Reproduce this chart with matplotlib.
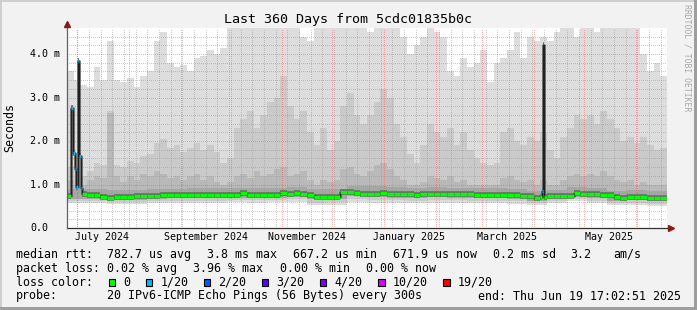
import numpy as np
import pandas as pd
import matplotlib
matplotlib.use("Agg")
import matplotlib.pyplot as plt
import matplotlib.dates as mdates
from matplotlib.patches import Rectangle
from datetime import datetime

MONO = "DejaVu Sans Mono"
W, H = 697, 310

# time frame of the graph
start = datetime(2024, 6, 24, 17, 2, 51)
span_days = 360

# smoke (ms), one value every 4 days
smoke_days = list(range(0, 360, 4))
ping_max = [3.6, 3.4, 3.3, 3.25, 3.7, 3.4, 4.3, 3.4, 3.35, 3.45,
            3.25, 3.5, 3.6, 4.3, 4.5, 3.8, 3.7, 3.75, 3.6, 3.9,
            3.95, 4.1, 4.0, 4.15, 4.6, 4.8, 4.8, 4.8, 4.8, 4.8,
            4.8, 4.8, 4.8, 4.8, 4.8, 4.4, 4.3, 4.8, 4.8, 4.8,
            4.8, 4.8, 4.8, 4.8, 4.8, 4.5, 4.8, 4.8, 4.8, 4.8,
            4.4, 4.0, 4.2, 4.4, 4.8, 4.5, 4.4, 3.6, 3.5, 3.9,
            3.7, 3.8, 4.1, 3.35, 3.8, 3.9, 4.1, 4.5, 3.9, 4.4,
            4.3, 4.4, 4.3, 4.5, 4.8, 4.8, 4.4, 4.8, 4.8, 4.5,
            4.8, 4.8, 4.8, 4.8, 4.8, 4.8, 4.0, 3.6, 3.8, 3.5]
ping_p2 = [1.4, 1.3, 1.2, 1.3, 1.5, 1.45, 2.7, 1.45, 1.4, 1.55,
           1.5, 1.65, 1.7, 1.95, 2.05, 1.85, 1.9, 1.75, 1.85, 1.95,
           1.8, 1.9, 1.75, 1.5, 1.6, 2.3, 2.5, 2.7, 2.3, 2.6,
           2.9, 3.0, 3.5, 2.8, 2.5, 2.7, 2.2, 1.9, 2.3, 1.8,
           2.0, 2.8, 3.1, 2.6, 2.4, 2.6, 2.9, 3.2, 3.0, 2.4,
           2.1, 1.7, 1.5, 1.9, 2.4, 2.2, 2.1, 2.3, 1.9, 2.2,
           1.8, 1.6, 1.5, 1.45, 1.5, 2.2, 2.3, 2.0, 1.9, 2.1,
           2.0, 2.2, 1.8, 1.6, 2.1, 2.3, 2.6, 2.5, 2.6, 2.4,
           2.7, 2.5, 2.3, 2.0, 2.1, 1.95, 2.1, 1.9, 1.8, 1.85]
ping_p3 = [1.1, 1.0, 1.0, 1.1, 1.2, 1.15, 2.65, 1.2, 1.05, 1.2,
           1.1, 1.25, 1.2, 1.3, 1.25, 1.15, 1.2, 1.1, 1.2, 1.25,
           1.1, 1.2, 1.05, 1.0, 1.05, 1.2, 1.25, 1.15, 1.3, 1.2,
           1.25, 1.35, 1.4, 1.2, 1.25, 1.3, 1.1, 1.0, 1.1, 1.05,
           1.1, 1.35, 1.4, 1.25, 1.2, 1.3, 1.45, 1.5, 1.35, 1.2,
           1.1, 1.0, 1.0, 1.05, 1.2, 1.15, 1.1, 1.2, 1.05, 1.1,
           1.0, 0.98, 1.0, 1.0, 1.0, 1.15, 1.2, 1.1, 1.05, 1.1,
           1.0, 1.1, 1.0, 0.98, 1.1, 1.2, 1.25, 1.2, 1.25, 1.2,
           1.3, 1.2, 1.1, 1.05, 1.1, 1.0, 1.05, 1.0, 0.98, 1.0]

# inner smoke bands around the median, one value every 12 days
band_days = list(range(0, 360, 12))
ping_p4 = [0.90, 0.90, 0.88, 0.88, 0.89, 0.90, 0.91, 0.91, 0.93, 0.92,
           0.93, 0.94, 0.89, 0.90, 0.96, 0.97, 0.94, 0.93, 0.94, 0.93,
           0.92, 0.91, 0.90, 0.86, 0.88, 0.94, 0.92, 0.86, 0.87, 0.84]
ping_lo2 = [0.67, 0.67, 0.64, 0.65, 0.67, 0.68, 0.69, 0.69, 0.70, 0.70,
            0.70, 0.71, 0.66, 0.66, 0.73, 0.71, 0.70, 0.70, 0.71, 0.70,
            0.69, 0.69, 0.67, 0.63, 0.66, 0.71, 0.69, 0.63, 0.64, 0.61]
ping_lo1 = [0.62, 0.62, 0.59, 0.60, 0.61, 0.62, 0.63, 0.63, 0.64, 0.64,
            0.65, 0.66, 0.58, 0.59, 0.66, 0.65, 0.64, 0.63, 0.64, 0.64,
            0.63, 0.63, 0.61, 0.57, 0.61, 0.66, 0.63, 0.57, 0.58, 0.55]
ping_min = [0.57, 0.57, 0.55, 0.56, 0.57, 0.58, 0.58, 0.58, 0.59, 0.58,
            0.59, 0.60, 0.52, 0.53, 0.60, 0.58, 0.58, 0.57, 0.58, 0.58,
            0.57, 0.57, 0.56, 0.52, 0.57, 0.62, 0.57, 0.52, 0.52, 0.50]

# median rtt (ms) and its loss class (index into loss_colors, -1 = none)
median_days = ([0, 2.6, 3.8, 4.6, 5.4, 6.4, 7.3, 8.2, 8.8]
               + list(range(12, 284, 4))
               + [284, 285.0, 285.6, 286.2]
               + list(range(288, 360, 4)))
median_ms = ([0.74, 2.75, 1.72, 1.36, 0.95, 3.84, 1.66, 0.92, 0.78]
             + [0.77, 0.75, 0.72, 0.70, 0.72, 0.72, 0.72, 0.73, 0.73, 0.74,
                0.74, 0.75, 0.75, 0.75, 0.76, 0.76, 0.76, 0.76, 0.76, 0.77,
                0.76, 0.77, 0.77, 0.81, 0.77, 0.76, 0.77, 0.77, 0.77, 0.80,
                0.79, 0.80, 0.78, 0.75, 0.72, 0.72, 0.72, 0.72, 0.82, 0.83,
                0.80, 0.79, 0.79, 0.79, 0.80, 0.79, 0.78, 0.78, 0.79, 0.77,
                0.78, 0.79, 0.78, 0.79, 0.78, 0.78, 0.79, 0.78, 0.77, 0.77,
                0.76, 0.77, 0.77, 0.76, 0.76, 0.74, 0.73, 0.70]
             + [0.71, 0.85, 4.2, 0.71]
             + [0.74, 0.74, 0.74, 0.74, 0.81, 0.79, 0.78, 0.78, 0.76, 0.75,
                0.71, 0.70, 0.72, 0.72, 0.71, 0.69, 0.69, 0.70])
median_loss = ([0, 1, 1, 1, 1, 1, 1, 1, 0]
               + [0] * 68
               + [0, 1, -1, 0]
               + [0] * 18)

loss_colors = ["#00ff00", "#00b8ff", "#0059ff", "#5e00ff", "#7e00ff", "#dd00ff", "#ff0000"]
loss_labels = ["0", "1/20", "2/20", "3/20", "4/20", "10/20", "19/20"]

y_ticks = [0, 1, 2, 3, 4]
y_tick_labels = ["0.0", "1.0 m", "2.0 m", "3.0 m", "4.0 m"]
x_label_dates = ["2024-07-16", "2024-09-16", "2024-11-16", "2025-01-16", "2025-03-16", "2025-05-16"]
x_labels = ["July 2024", "September 2024", "November 2024", "January 2025", "March 2025", "May 2025"]

rtt_stats = ["782.7 us avg", "3.8 ms max", "667.2 us min", "671.9 us now", "0.2 ms sd", "3.2", "am/s"]
loss_stats = ["0.02 % avg", "3.96 % max", "0.00 % min", "0.00 % now"]
probe_text = "20 IPv6-ICMP Echo Pings (56 Bytes) every 300s"
end_text = "end: Thu Jun 19 17:02:51 2025"

t0 = mdates.date2num(start)


def stepped(days, vals):
    x = t0 + np.append(np.asarray(days, float), span_days)
    y = np.append(vals, vals[-1])
    return x, y


def fx(px):
    return px / W


def fy(py):
    return 1 - py / H


fig = plt.figure(figsize=(W / 100, H / 100), dpi=100, facecolor="#F2F2F2")
ax = fig.add_axes([fx(67), 82 / H, 600 / W, 200 / H])
ax.set_facecolor("white")
ax.set_xlim(t0, t0 + span_days)
ax.set_ylim(0, 4.6)
for s in ax.spines.values():
    s.set_visible(False)
ax.set_xticks([])
ax.set_yticks([])

# smoke: upper bands painted from 0, then the lower bands lighten it again
layers = [(smoke_days, ping_max, "#DDDDDD"), (smoke_days, ping_p2, "#CACACA"),
          (smoke_days, ping_p3, "#B9B9B9"), (band_days, ping_p4, "#A6A6A6"),
          (band_days, ping_lo2, "#CACACA"), (band_days, ping_lo1, "#DDDDDD"),
          (band_days, ping_min, "#FFFFFF")]
for days, vals, col in layers:
    x, y = stepped(days, vals)
    ax.fill_between(x, 0, y, step="post", color=col, lw=0, zorder=1)

# grid (1px dots)
dot = (0, (1, 1.5))
gkw = dict(lw=0.6, ls=dot, zorder=2, antialiased=False)
mondays = mdates.date2num(pd.date_range("2024-07-01", "2025-06-19", freq="7D").to_pydatetime())
months = mdates.date2num(pd.date_range("2024-07-01", "2025-06-01", freq="MS").to_pydatetime())
for d in mondays:
    ax.axvline(d, color="#999999", alpha=0.5, **gkw)
for v in np.arange(0.2, 4.6, 0.2):
    if abs(v - round(v)) > 1e-6:
        ax.axhline(v, color="#999999", alpha=0.5, **gkw)
for d in months:
    ax.axvline(d, color="#ff3030", alpha=0.35, **gkw)
for v in y_ticks[1:]:
    ax.axhline(v, color="#ff3030", alpha=0.35, **gkw)

# median: dark halo and black line, then loss coloured boxes
mx, my = stepped(median_days, median_ms)
ax.hlines(median_ms, mx[:-1], mx[1:], color="#6a6a6a", lw=4.0, zorder=3)
ax.step(mx, my, where="post", color="#555555", lw=1.8, zorder=3.2)
ax.step(mx, my, where="post", color="#202020", lw=0.8, zorder=3.5)
for i, lc in enumerate(median_loss):
    if lc < 0:
        continue
    ax.hlines(median_ms[i], mx[i], mx[i + 1], color=loss_colors[lc], lw=2.4, zorder=4)

# axes with arrows
ax.plot([0, 1.008], [0, 0], color="#303030", lw=0.9, transform=ax.transAxes, clip_on=False, zorder=5)
ax.plot([0, 0], [0, 1.02], color="#606060", lw=0.9, transform=ax.transAxes, clip_on=False, zorder=5)
ax.plot([1.006], [0], marker=">", ms=4.2, color="#8b1a1a", transform=ax.transAxes, clip_on=False, zorder=6)
ax.plot([0], [1.022], marker="^", ms=4.2, color="#8b1a1a", transform=ax.transAxes, clip_on=False, zorder=6)

# tick labels
for v, lab in zip(y_ticks, y_tick_labels):
    ax.text(-37 / 600, v, lab, transform=ax.get_yaxis_transform(), ha="left", va="center",
            fontsize=7.2, family=MONO, color="#000000")
for d, lab in zip(x_label_dates, x_labels):
    ax.text(mdates.date2num(pd.Timestamp(d).to_pydatetime()), -9.5 / 200, lab,
            transform=ax.get_xaxis_transform(), ha="center", va="center",
            fontsize=7.2, family=MONO, color="#000000")

fig.text(0.5, fy(19), "Last 360 Days from 5cdc01835b0c", ha="center", va="center",
         fontsize=9.6, family=MONO)
fig.text(fx(10), fy(127), "Seconds", rotation=90, ha="center", va="center",
         fontsize=8.4, family=MONO)
fig.text(fx(687), fy(4), "RRDTOOL / TOBI OETIKER", rotation=270, ha="center", va="top",
         fontsize=5.9, family=MONO, color="#A8A8A8")

# legend block
fs = 8.4
rows = [254.3, 268.3, 282.3, 296.0]
fig.text(fx(16), fy(rows[0]), "median rtt:", fontsize=fs, family=MONO, va="center")
for xp, s in zip([107.3, 206.7, 292.7, 392.7, 492.7, 570.5, 613.3], rtt_stats):
    fig.text(fx(xp), fy(rows[0]), s, fontsize=fs, family=MONO, va="center")
fig.text(fx(16), fy(rows[1]), "packet loss:", fontsize=fs, family=MONO, va="center")
for xp, s in zip([107.3, 193.5, 279.5, 365.5], loss_stats):
    fig.text(fx(xp), fy(rows[1]), s, fontsize=fs, family=MONO, va="center")
fig.text(fx(16), fy(rows[2]), "loss color:", fontsize=fs, family=MONO, va="center")
xp = 108.7
for col, lab in zip(loss_colors, loss_labels):
    fig.add_artist(Rectangle((fx(xp), fy(285.8)), 6.5 / W, 6.5 / H, facecolor=col,
                             edgecolor="black", lw=0.8, transform=fig.transFigure))
    fig.text(fx(xp + 14.7), fy(rows[2]), lab, fontsize=fs, family=MONO, va="center")
    xp = xp + 14.7 + 7.02 * len(lab) + 15.3
fig.text(fx(16), fy(rows[3]), "probe:", fontsize=fs, family=MONO, va="center")
fig.text(fx(107.3), fy(rows[3]), probe_text, fontsize=fs, family=MONO, va="center")
fig.text(fx(478.3), fy(rows[3]), end_text, fontsize=fs, family=MONO, va="center")

# 3d frame
fig.add_artist(Rectangle((0, 1 - 2 / H), 1, 2 / H, color="#CFCFCF", lw=0, transform=fig.transFigure))
fig.add_artist(Rectangle((0, 0), 2 / W, 1, color="#CFCFCF", lw=0, transform=fig.transFigure))
fig.add_artist(Rectangle((0, 0), 1, 3 / H, color="#9E9E9E", lw=0, transform=fig.transFigure))
fig.add_artist(Rectangle((1 - 3 / W, 0), 3 / W, 1, color="#9E9E9E", lw=0, transform=fig.transFigure))

fig.savefig("out.png", dpi=100, facecolor=fig.get_facecolor())
